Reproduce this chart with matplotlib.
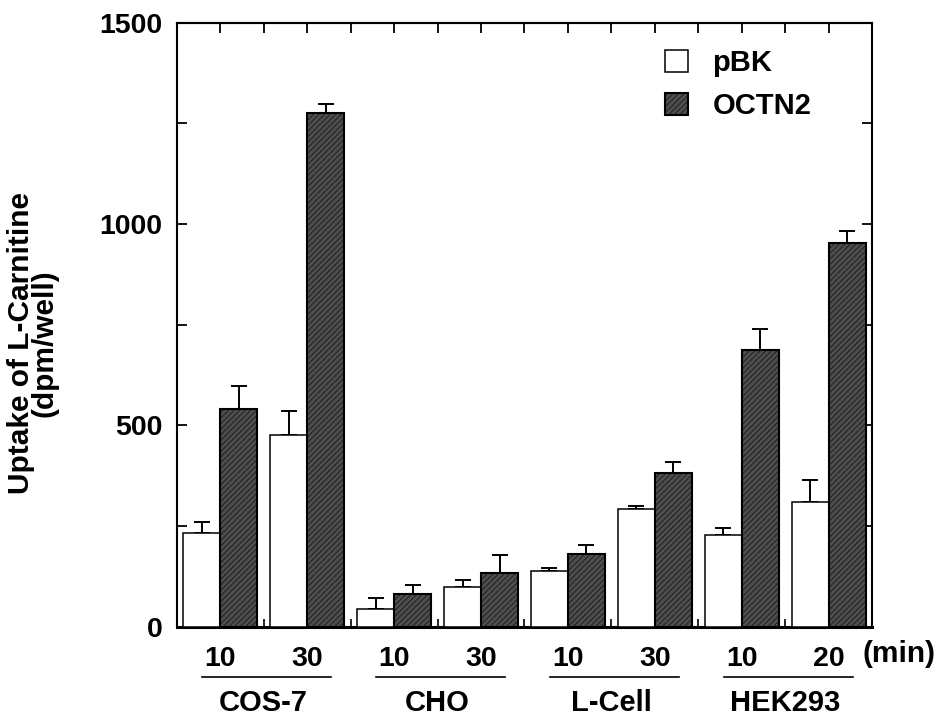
import numpy as np
import matplotlib
matplotlib.use("Agg")
import matplotlib.pyplot as plt
from matplotlib.patches import Patch
import matplotlib.transforms as mtransforms

plt.rcParams['font.family'] = ['Liberation Sans', 'DejaVu Sans']
plt.rcParams['font.weight'] = 'bold'
plt.rcParams['hatch.linewidth'] = 0.4

# ---- data ----
time_labels = ["10", "30", "10", "30", "10", "30", "10", "20"]
cell_lines = ["COS-7", "CHO", "L-Cell", "HEK293"]
pbk = [232, 476, 43, 99, 138, 292, 228, 309]
pbk_err = [29, 60, 29, 17, 8, 8, 17, 56]
octn2 = [541, 1276, 81, 134, 181, 381, 687, 953]
octn2_err = [56, 21, 22, 43, 21, 27, 52, 30]
yticks = [0, 500, 1000, 1500]
series_names = ["pBK", "OCTN2"]

fig = plt.figure(figsize=(9.43, 7.16), dpi=100)
ax = fig.add_axes([0.1874, 0.1247, 0.7376, 0.8436])

x = np.arange(len(pbk))
w = 0.425
dark = '#4d4d4d'

ax.bar(x - w / 2, pbk, width=w, color='white', edgecolor='black', linewidth=1.1, zorder=3)
ax.bar(x + w / 2, octn2, width=w, color=dark, edgecolor='black', linewidth=1.5,
       hatch='//////', zorder=3)
ax.errorbar(x - w / 2, pbk, yerr=[np.zeros(len(pbk)), pbk_err], fmt='none', ecolor='black',
            elinewidth=1.4, capsize=6, capthick=1.4, zorder=2)
ax.errorbar(x + w / 2, octn2, yerr=[np.zeros(len(octn2)), octn2_err], fmt='none', ecolor='black',
            elinewidth=1.4, capsize=6, capthick=1.4, zorder=2)

ax.set_xlim(-0.5, len(pbk) - 0.5)
ax.set_ylim(0, 1500)

for s in ['left', 'right', 'top']:
    ax.spines[s].set_linewidth(1.5)
ax.spines['bottom'].set_linewidth(2.2)

# y ticks
ax.set_yticks(yticks)
ax.set_yticklabels([str(v) for v in yticks], fontsize=20.5, fontweight='bold')
ax.set_yticks([250, 750, 1250], minor=True)
ax.tick_params(axis='y', which='both', direction='in', left=True, right=True,
               length=7, width=1.3, pad=10.5)

# x ticks: labels at pair centres, small ticks between pairs
ax.set_xticks(x)
ax.set_xticklabels(time_labels, fontsize=20.5, fontweight='bold')
ax.set_xticks(np.arange(0.5, len(pbk) - 1, 1.0), minor=True)
ax.tick_params(axis='x', which='major', length=0, pad=14, top=False)
ax.tick_params(axis='x', which='minor', direction='in', length=6, width=1.2, top=False)

sec = ax.secondary_xaxis('top')
sec.set_xticks(np.arange(0, len(pbk) - 0.9, 0.5))
sec.set_xticklabels([])
sec.tick_params(direction='in', length=7, width=1.3)
sec.spines['top'].set_linewidth(1.5)

# group underlines and names
trans = mtransforms.blended_transform_factory(ax.transData, fig.transFigure)
line_y = 1 - 676.7 / 716
name_y = 1 - 703 / 716
for g, name in enumerate(cell_lines):
    a, b = 2 * g, 2 * g + 1
    ax.plot([a - 0.21, b + 0.28], [line_y, line_y], transform=trans, color='black',
            linewidth=1.2, clip_on=False)
    ax.text(a + 0.5, name_y, name, transform=trans, ha='center', va='center',
            fontsize=21, fontweight='bold')

fig.text(863 / 943, 1 - 654 / 716, "(min)", ha='left', va='center', fontsize=21.5,
         fontweight='bold')

fig.text(33 / 943, 1 - 343 / 716, "Uptake of L-Carnitine\n(dpm/well)", rotation=90,
         ha='center', va='center', fontsize=21.5, fontweight='bold', linespacing=0.8,
         multialignment='center')

handles = [Patch(facecolor='white', edgecolor='black', linewidth=1.1),
           Patch(facecolor=dark, edgecolor='black', linewidth=1.5, hatch='//////')]
leg = ax.legend(handles, series_names, loc='upper left', bbox_to_anchor=(0.685, 0.975),
                frameon=False, prop={'size': 21, 'weight': 'bold'},
                handlelength=0.78, handleheight=0.78, handletextpad=0.85,
                labelspacing=0.5, borderaxespad=0)

fig.savefig("out.png", dpi=100)
